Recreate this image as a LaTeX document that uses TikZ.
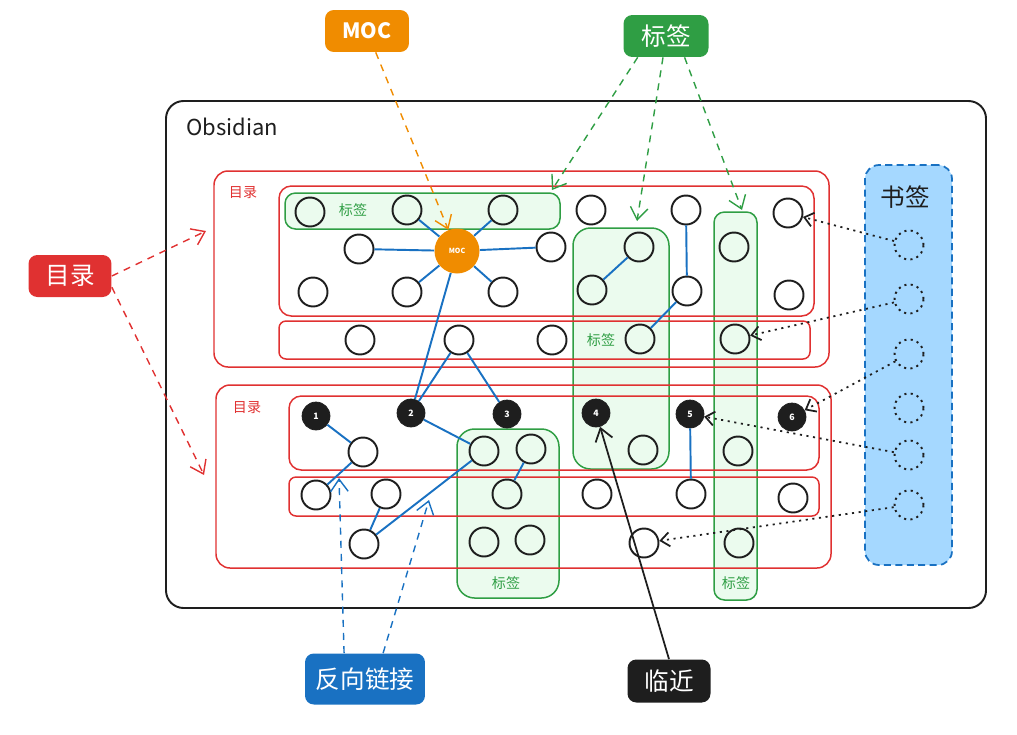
\documentclass[tikz,border=0pt]{standalone}
\usepackage{fontspec}
\setmainfont{Noto Sans CJK SC}
\usetikzlibrary{arrows.meta,fit}
\definecolor{inkc}{HTML}{1E1E1E}
\definecolor{tocred}{HTML}{E03131}
\definecolor{taggreen}{HTML}{2F9E44}
\definecolor{tagfill}{HTML}{EBFBEE}
\definecolor{mocorange}{HTML}{F08C00}
\definecolor{linkblue}{HTML}{1971C2}
\definecolor{bmfill}{HTML}{A5D8FF}

\begin{document}
\begin{tikzpicture}[x=0.02cm, y=-0.02cm,
    every node/.style={font=\fontsize{8}{9}\selectfont},
    note/.style={circle, draw=inkc, line width=1.1pt, minimum size=0.58cm, inner sep=0pt},
    numnote/.style={circle, draw=inkc, fill=inkc, minimum size=0.56cm, inner sep=0pt, text=white, font=\fontsize{5}{5}\selectfont\bfseries},
    bmnote/.style={circle, draw=inkc, line width=1.1pt, dash pattern=on 1.2pt off 2.4pt, minimum size=0.58cm, inner sep=0pt},
    redbox/.style={draw=tocred, line width=0.85pt, inner sep=0pt, rounded corners=7pt},
    tagbox/.style={draw=taggreen, fill=tagfill, line width=0.85pt, inner sep=0pt, rounded corners=6pt},
    flag/.style={rounded corners=5pt, text=white, inner sep=0pt, font=\fontsize{14}{16}\selectfont},
    link/.style={draw=linkblue, line width=1.1pt},
    bmlink/.style={draw=inkc, line width=1pt, dash pattern=on 1.2pt off 2.6pt, -{Straight Barb[length=5pt,width=8pt]}},
    hint/.style={line width=0.8pt, dash pattern=on 4pt off 3.5pt, -{Straight Barb[length=7pt,width=10pt]}}]
  \useasboundingbox (0,0) rectangle (1017,734);

  % vault frame
  \node[draw=inkc, line width=1.1pt, rounded corners=10pt, inner sep=0pt, fit={(166,101) (986,608)}] (vault) {};
  \node[text=inkc, font=\fontsize{12.5}{14}\selectfont] (vaultname) at (232,127) {Obsidian};

  % tags
  \node[tagbox, fit={(285,193) (560,229)}] (g1) {};
  \node[tagbox, rounded corners=10pt, fit={(573,228) (669,469)}] (g2) {};
  \node[tagbox, fit={(714,212) (757,600)}] (g3) {};
  \node[tagbox, rounded corners=10pt, fit={(457,429) (559,598)}] (g4) {};
  \node[text=taggreen] (g1name) at (353,210) {标签};
  \node[text=taggreen] (g2name) at (601,340) {标签};
  \node[text=taggreen] (g3name) at (736,583) {标签};
  \node[text=taggreen] (g4name) at (506,583) {标签};

  % folders
  \node[redbox, rounded corners=8pt, fit={(214,171) (829,367)}] (toc1) {};
  \node[redbox, fit={(279,186) (814,316)}] (toc1a) {};
  \node[redbox, rounded corners=4pt, fit={(279,321) (810,359)}] (toc1b) {};
  \node[redbox, rounded corners=8pt, fit={(216,385) (831,568)}] (toc2) {};
  \node[redbox, fit={(289,396) (819,470)}] (toc2a) {};
  \node[redbox, rounded corners=4pt, fit={(289,477) (819,516)}] (toc2b) {};
  \node[text=tocred] (toc1name) at (243,193) {目录};
  \node[text=tocred] (toc2name) at (247,408) {目录};

  % bookmarks
  \node[draw=linkblue, fill=bmfill, line width=1pt, dash pattern=on 4pt off 2.5pt, rounded corners=8pt, inner sep=0pt, fit={(865,165) (952,565)}] (bmpanel) {};
  \node[text=inkc, font=\fontsize{14}{16}\selectfont] (bmname) at (905,197) {书签};
  \foreach \i/\y in {1/245,2/299,3/354,4/408,5/455,6/505}
    \node[bmnote] (bm\i) at (909,\y) {};

  % notes
  \foreach \n/\x/\y in {ta/310/212, tb/407/210, tc/503/210, td/359/249, te/551/247,
      tf/313/292, tg/407/292, th/503/292, ti/591/210, tj/686/210, tk/788/213,
      tl/639/247, tm/734/247, tn/592/290, to/687/291, tp/789/295,
      ra/360/340, rb/459/340, rc/552/340, rd/640/339, re/735/339,
      ba/363/452, bb/484/451, bc/531/449, bd/643/450, be/738/451,
      sa/316/495, sb/386/494, sc/507/494, sd/597/494, se/691/494, sf/793/498,
      ua/364/544, ub/484/542, uc/530/540, ud/644/543, ue/739/543}
    \node[note] (\n) at (\x,\y) {};
  \foreach \i/\x/\y in {1/316/416, 2/411/413, 3/507/414, 4/596/413, 5/690/414, 6/792/417}
    \node[numnote] (n\i) at (\x,\y) {\i};
  \node[circle, fill=mocorange, minimum size=0.9cm, inner sep=0pt, text=white, font=\fontsize{4}{4}\selectfont\bfseries] (moc) at (457,251) {MOC};

  % links
  \foreach \a/\b in {moc/td, moc/te, moc/tb, moc/tc, moc/tg, moc/th, moc/n2, rb/n2, rb/n3,
      tl/tn, tj/to, to/rd, n1/ba, ba/sa, n2/bb, bc/sc, sb/ua, ua/bb, n5/se}
    \draw[link] (\a) -- (\b);
  \foreach \a/\b in {bm1/tk, bm2/re, bm3/n6, bm5/n5, bm6/ud}
    \draw[bmlink] (\a) -- (\b);

  % callouts
  \node[flag, fill=mocorange, minimum width=1.68cm, minimum height=0.84cm, font=\fontsize{12}{14}\selectfont\bfseries] (moclbl) at (367,31) {MOC};
  \node[flag, fill=taggreen, minimum width=1.7cm, minimum height=0.84cm] (taglbl) at (666,36) {标签};
  \node[flag, fill=tocred, minimum width=1.66cm, minimum height=0.84cm] (toclbl) at (70,276) {目录};
  \node[flag, fill=linkblue, minimum width=2.4cm, minimum height=1.02cm] (bllbl) at (365,679) {反向链接};
  \node[flag, fill=inkc, minimum width=1.66cm, minimum height=0.86cm] (nearlbl) at (669,681) {临近};

  \coordinate (g1in) at (552,190);
  \coordinate (g2in) at (637,221);
  \coordinate (g3in) at (742,210);
  \coordinate (toc1in) at (206,231);
  \coordinate (toc2in) at (204,475);
  \coordinate (bl1in) at (339,478);
  \coordinate (bl2in) at (429,500);

  \draw[hint, mocorange] (moclbl) -- (moc);
  \draw[hint, taggreen] (taglbl.217) -- (g1in);
  \draw[hint, taggreen] (taglbl.262) -- (g2in);
  \draw[hint, taggreen] (taglbl.311) -- (g3in);
  \draw[hint, tocred] (toclbl.east) -- (toc1in);
  \draw[hint, tocred] (toclbl.-15) -- (toc2in);
  \draw[hint, linkblue] (bllbl.129) -- (bl1in);
  \draw[hint, linkblue] (bllbl.55) -- (bl2in);
  \draw[inkc, line width=1pt, -{Straight Barb[length=7pt,width=10pt]}] (nearlbl.north) -- (n4);
\end{tikzpicture}
\end{document}
